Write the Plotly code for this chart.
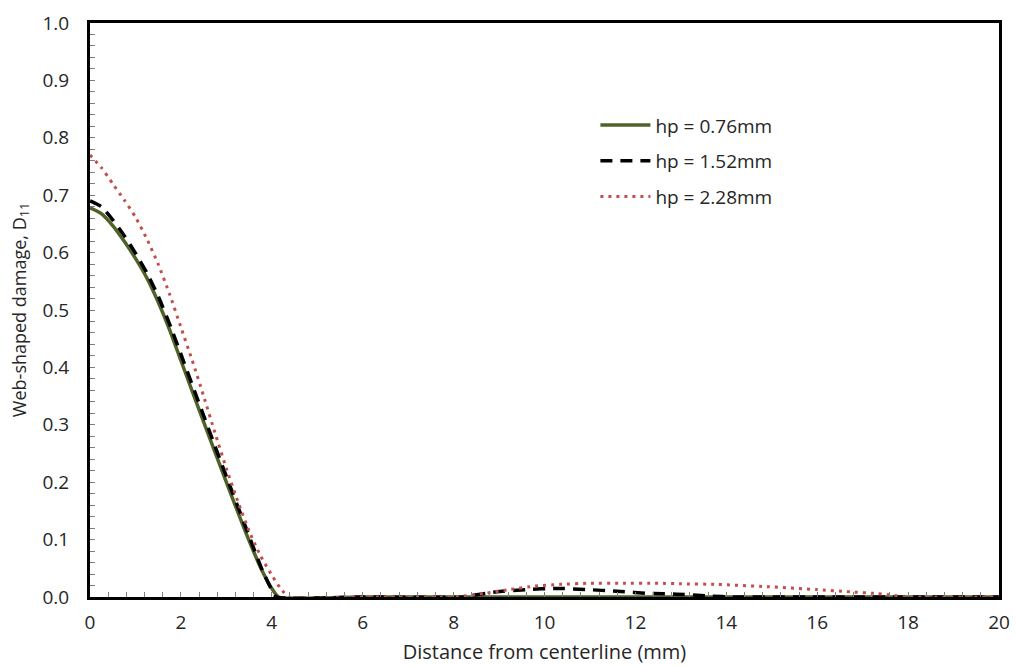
import plotly.graph_objects as go

# hp = 0.76 mm
x_076 = [0, 0.25, 0.5, 0.75, 1.0, 1.25, 1.5, 1.75, 2.0, 2.5, 3.0, 3.4, 3.75, 4.0, 4.15, 6, 8, 10, 12, 14, 16, 18, 20]
y_076 = [0.678, 0.668, 0.647, 0.620, 0.590, 0.556, 0.514, 0.466, 0.412, 0.305, 0.200, 0.118, 0.052, 0.015, 0.0, 0, 0, 0, 0, 0, 0, 0, 0]

# hp = 1.52 mm
x_152 = [0, 0.25, 0.5, 0.75, 1.0, 1.25, 1.5, 1.75, 2.0, 2.5, 3.0, 3.4, 3.8, 4.0, 4.1, 6, 8.2, 8.43, 8.95, 9.61, 10.27, 10.93, 11.59, 12.36, 12.91, 13.57, 14.2, 16, 18, 20]
y_152 = [0.690, 0.680, 0.657, 0.630, 0.599, 0.565, 0.524, 0.476, 0.423, 0.316, 0.210, 0.127, 0.045, 0.012, 0.0, 0, 0, 0.003, 0.009, 0.013, 0.015, 0.013, 0.010, 0.006, 0.005, 0.002, 0, 0, 0, 0]

# hp = 2.28 mm
x_228 = [0, 0.25, 0.5, 0.75, 1.0, 1.25, 1.5, 1.75, 2.0, 2.25, 2.5, 2.75, 3.0, 3.25, 3.5, 3.75, 4.0, 4.2, 4.38, 6, 8.0, 8.65, 9.24, 9.79, 10.34, 11.0, 11.66, 12.5, 13.0, 13.79, 14.89, 15.99, 16.72, 17.31, 17.67, 17.95, 20]
y_228 = [0.770, 0.748, 0.720, 0.692, 0.662, 0.624, 0.580, 0.528, 0.470, 0.412, 0.350, 0.286, 0.224, 0.167, 0.115, 0.072, 0.038, 0.014, 0.0, 0, 0, 0.006, 0.013, 0.019, 0.022, 0.024, 0.024, 0.024, 0.023, 0.022, 0.018, 0.013, 0.009, 0.006, 0.003, 0, 0]

names = ["hp = 0.76mm", "hp = 1.52mm", "hp = 2.28mm"]

FONT = "Open Sans, Noto Sans, sans-serif"
TXT = "#262626"

fig = go.Figure()
fig.add_trace(go.Scatter(x=x_076, y=y_076, mode="lines", name=names[0], legendgroup="a",
                         line=dict(color="#4F6228", width=3.5, shape="spline", smoothing=0.5)))
fig.add_trace(go.Scatter(x=x_152, y=y_152, mode="lines", name=names[1], legendgroup="b",
                         line=dict(color="#000000", width=3.5, dash="12px,8px", shape="spline", smoothing=0.5)))
fig.add_trace(go.Scatter(x=x_228, y=y_228, mode="lines", name=names[2], legendgroup="c",
                         line=dict(color="#C0504D", width=3, dash="3px,5px", shape="spline", smoothing=0.5)))

fig.update_layout(
    width=1016, height=666,
    margin=dict(l=90, r=17, t=23, b=69, autoexpand=False),
    paper_bgcolor="white", plot_bgcolor="white",
    font=dict(family=FONT, size=19, color=TXT),
    legend=dict(x=0.556, y=0.855, xanchor="left", yanchor="top",
                bgcolor="rgba(0,0,0,0)", tracegroupgap=8, itemwidth=50,
                font=dict(size=19, color=TXT)),
    showlegend=True,
)

fig.update_xaxes(
    range=[0, 20], tick0=0, dtick=2, tickformat="d",
    showgrid=False, zeroline=False,
    showline=True, linecolor="black", linewidth=3, mirror=True,
    ticks="inside", ticklen=5, tickcolor="#808080", tickwidth=1,
    minor=dict(dtick=0.4, ticks="inside", ticklen=5, tickcolor="#808080", tickwidth=1, showgrid=False),
    tickfont=dict(size=19, color=TXT), ticklabelstandoff=6,
    title=dict(text="Distance from centerline (mm)", font=dict(size=20, color=TXT), standoff=12),
)
fig.update_yaxes(
    range=[0, 1.0], tick0=0, dtick=0.1, tickformat=".1f",
    showgrid=False, zeroline=False,
    showline=True, linecolor="black", linewidth=3, mirror=True,
    ticks="inside", ticklen=5, tickcolor="#808080", tickwidth=1,
    minor=dict(dtick=0.02, ticks="inside", ticklen=5, tickcolor="#808080", tickwidth=1, showgrid=False),
    tickfont=dict(size=19, color=TXT), ticklabelstandoff=14,
    title=dict(text="Web-shaped damage, D<sub>11</sub>", font=dict(size=18, color=TXT), standoff=12),
)

fig.write_html("out.html", config={"displayModeBar": False},
               post_script="document.body.style.margin='0';document.body.style.overflow='hidden';")
